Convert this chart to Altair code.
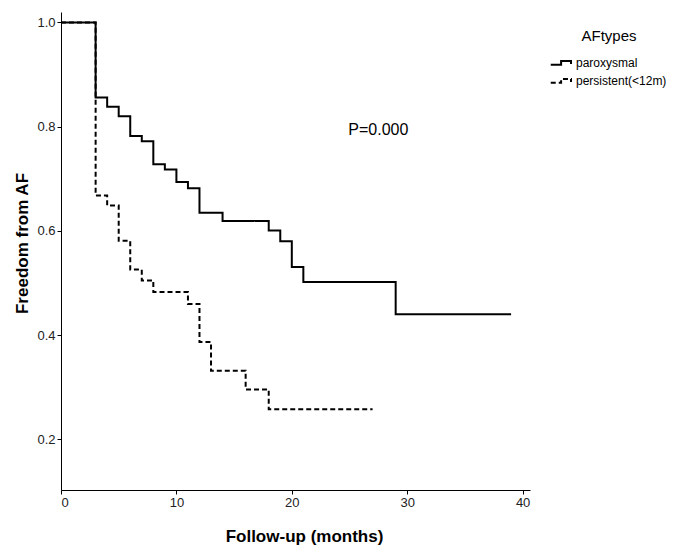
import altair as alt
import pandas as pd

# Kaplan-Meier step data
parox_time = [0, 3, 4, 5, 6, 7, 8, 9, 10, 11, 12, 14, 18, 19, 20, 21, 29, 39]
parox_surv = [1.0, 0.856, 0.838, 0.820, 0.782, 0.772, 0.728, 0.718, 0.694, 0.682,
              0.635, 0.619, 0.601, 0.580, 0.531, 0.502, 0.440, 0.440]
pers_time = [0, 3, 4, 5, 6, 7, 8, 11, 12, 13, 16, 18, 27]
pers_surv = [1.0, 0.668, 0.649, 0.581, 0.526, 0.505, 0.483, 0.460, 0.387, 0.332,
             0.296, 0.258, 0.258]
groups = ["paroxysmal", "persistent(<12m)"]

x_ticks = [0, 10, 20, 30, 40]
y_ticks = [0.2, 0.4, 0.6, 0.8, 1.0]

p_label = ["P=0.000"]
p_x = [27.5]
p_y = [0.794]

rows = []
for t, s in zip(parox_time, parox_surv):
    rows.append({"time": t, "surv": s, "AFtypes": groups[0]})
for t, s in zip(pers_time, pers_surv):
    rows.append({"time": t, "surv": s, "AFtypes": groups[1]})
df = pd.DataFrame(rows)
ann = pd.DataFrame({"label": p_label, "x": p_x, "y": p_y})

FONT = "Liberation Sans"

xscale = alt.Scale(domain=[0, 40.64], nice=False, zero=False)
yscale = alt.Scale(domain=[0.103, 1.02], nice=False, zero=False)

step_path = "M-1.25,0.2 H-0.1 V-0.22 H1.0 V0.1"

lines = alt.Chart(df).mark_line(interpolate="step-after", strokeWidth=2, color="black").encode(
    x=alt.X("time:Q", scale=xscale,
            axis=alt.Axis(values=x_ticks, format="d", title="Follow-up (months)",
                          titleX=243, titleY=51, titleAnchor="start", titleAlign="center",
                          titleBaseline="alphabetic")),
    y=alt.Y("surv:Q", scale=yscale,
            axis=alt.Axis(values=y_ticks, format=".1f", title="Freedom from AF",
                          titleX=-34, titleY=231, titleAlign="center",
                          titleBaseline="alphabetic", titleAngle=-90)),
    strokeDash=alt.StrokeDash("AFtypes:N",
                              scale=alt.Scale(domain=groups, range=[[1, 0], [5, 3]]),
                              legend=alt.Legend(title="AFtypes", orient="none",
                                                legendX=491, legendY=17,
                                                symbolType=step_path, symbolSize=324,
                                                symbolStrokeWidth=2, symbolStrokeColor="black",
                                                symbolFillColor="transparent",
                                                titleAnchor="middle", titleFontSize=15,
                                                titleFontWeight="normal", titleColor="black",
                                                titleFont=FONT, titlePadding=9,
                                                labelFont=FONT, labelFontSize=12,
                                                labelColor="black", labelOffset=4,
                                                rowPadding=2)),
    detail="AFtypes:N",
)

ptext = alt.Chart(ann).mark_text(font=FONT, fontSize=16, color="black", align="center",
                                 baseline="middle").encode(
    x=alt.X("x:Q", scale=xscale),
    y=alt.Y("y:Q", scale=yscale),
    text="label:N",
)

chart = alt.layer(lines, ptext).properties(
    width=469, height=478,
    autosize=alt.AutoSizeParams(type="none"),
    padding={"left": 61, "top": 12, "right": 145, "bottom": 59},
).configure_view(stroke=None).configure_axis(
    grid=False, domainColor="black", domainWidth=1, tickColor="black", tickSize=4,
    labelFont=FONT, labelFontSize=13, labelColor="#222", labelPadding=2,
    titleFont=FONT, titleFontSize=17, titleFontWeight="bold", titleColor="black",
)

chart.save("out.html", embed_options={"renderer": "svg", "actions": False})
